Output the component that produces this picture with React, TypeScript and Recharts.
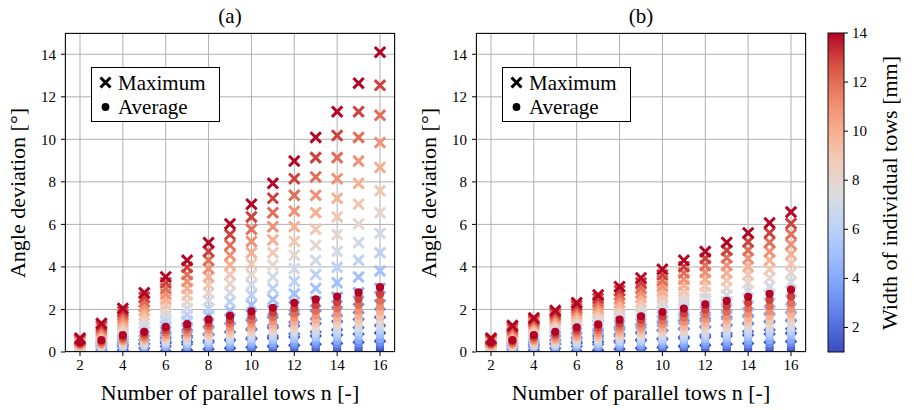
import React from 'react';
import { ScatterChart, Scatter, XAxis, YAxis, CartesianGrid } from 'recharts';

const towCounts = [2, 3, 4, 5, 6, 7, 8, 9, 10, 11, 12, 13, 14, 15, 16];
const widths = [1, 2, 3, 4, 5, 6, 7, 8, 9, 10, 11, 12, 13, 14];
const xTicks = [2, 4, 6, 8, 10, 12, 14, 16];
const yTicks = [0, 2, 4, 6, 8, 10, 12, 14];
const barTicks = [2, 4, 6, 8, 10, 12, 14];

// rows: tow width 1..14 mm, columns: n = 2..16
const maxA = [
  [0.05, 0.09, 0.14, 0.19, 0.23, 0.28, 0.33, 0.37, 0.42, 0.46, 0.51, 0.56, 0.6, 0.65, 0.7],
  [0.09, 0.19, 0.28, 0.37, 0.46, 0.56, 0.65, 0.75, 0.85, 0.95, 1.04, 1.14, 1.24, 1.34, 1.44],
  [0.14, 0.28, 0.42, 0.56, 0.7, 0.85, 1.0, 1.14, 1.29, 1.44, 1.59, 1.75, 1.9, 2.05, 2.21],
  [0.19, 0.37, 0.56, 0.75, 0.95, 1.14, 1.34, 1.54, 1.75, 1.95, 2.15, 2.36, 2.57, 2.78, 2.99],
  [0.23, 0.46, 0.7, 0.95, 1.19, 1.44, 1.7, 1.95, 2.21, 2.47, 2.73, 2.99, 3.26, 3.53, 3.81],
  [0.28, 0.56, 0.85, 1.14, 1.44, 1.75, 2.05, 2.36, 2.68, 2.99, 3.32, 3.64, 3.98, 4.31, 4.67],
  [0.33, 0.65, 1.0, 1.34, 1.7, 2.05, 2.42, 2.78, 3.16, 3.53, 3.92, 4.31, 4.73, 5.14, 5.58],
  [0.37, 0.75, 1.14, 1.54, 1.95, 2.36, 2.78, 3.21, 3.64, 4.09, 4.55, 5.02, 5.52, 6.02, 6.55],
  [0.42, 0.85, 1.29, 1.75, 2.21, 2.68, 3.16, 3.64, 4.14, 4.67, 5.2, 5.77, 6.35, 6.95, 7.58],
  [0.46, 0.95, 1.44, 1.95, 2.47, 2.99, 3.53, 4.09, 4.67, 5.27, 5.89, 6.55, 7.23, 7.93, 8.68],
  [0.51, 1.04, 1.59, 2.15, 2.73, 3.32, 3.92, 4.55, 5.2, 5.89, 6.62, 7.37, 8.15, 8.98, 9.85],
  [0.56, 1.14, 1.75, 2.36, 2.99, 3.64, 4.31, 5.02, 5.77, 6.55, 7.37, 8.23, 9.14, 10.09, 11.13],
  [0.6, 1.24, 1.9, 2.57, 3.26, 3.98, 4.73, 5.52, 6.35, 7.23, 8.15, 9.14, 10.18, 11.3, 12.54],
  [0.65, 1.34, 2.05, 2.78, 3.53, 4.31, 5.14, 6.02, 6.95, 7.93, 8.98, 10.09, 11.3, 12.64, 14.1],
];

const avgA = [
  [0.02, 0.02, 0.03, 0.04, 0.05, 0.06, 0.07, 0.07, 0.08, 0.09, 0.1, 0.11, 0.11, 0.12, 0.13],
  [0.04, 0.05, 0.07, 0.09, 0.11, 0.12, 0.14, 0.15, 0.17, 0.19, 0.21, 0.22, 0.24, 0.25, 0.28],
  [0.06, 0.08, 0.11, 0.14, 0.17, 0.19, 0.22, 0.24, 0.27, 0.3, 0.33, 0.35, 0.37, 0.4, 0.44],
  [0.09, 0.11, 0.16, 0.19, 0.23, 0.26, 0.3, 0.34, 0.38, 0.41, 0.46, 0.49, 0.52, 0.56, 0.61],
  [0.12, 0.15, 0.21, 0.26, 0.32, 0.35, 0.41, 0.46, 0.52, 0.56, 0.62, 0.67, 0.7, 0.76, 0.82],
  [0.15, 0.18, 0.26, 0.31, 0.39, 0.43, 0.5, 0.56, 0.63, 0.69, 0.76, 0.82, 0.86, 0.92, 1.01],
  [0.18, 0.22, 0.31, 0.37, 0.46, 0.52, 0.6, 0.67, 0.75, 0.82, 0.91, 0.97, 1.03, 1.1, 1.2],
  [0.21, 0.26, 0.37, 0.44, 0.55, 0.61, 0.71, 0.79, 0.89, 0.97, 1.08, 1.15, 1.22, 1.31, 1.42],
  [0.24, 0.3, 0.43, 0.51, 0.64, 0.71, 0.83, 0.92, 1.03, 1.13, 1.25, 1.34, 1.41, 1.51, 1.65],
  [0.28, 0.34, 0.49, 0.58, 0.73, 0.81, 0.94, 1.05, 1.17, 1.28, 1.42, 1.52, 1.61, 1.72, 1.88],
  [0.31, 0.39, 0.55, 0.66, 0.82, 0.91, 1.07, 1.18, 1.33, 1.45, 1.61, 1.72, 1.82, 1.95, 2.13],
  [0.36, 0.44, 0.62, 0.75, 0.93, 1.03, 1.21, 1.34, 1.51, 1.64, 1.82, 1.95, 2.06, 2.21, 2.41],
  [0.4, 0.5, 0.7, 0.85, 1.05, 1.17, 1.36, 1.51, 1.7, 1.85, 2.06, 2.2, 2.33, 2.49, 2.72],
  [0.45, 0.56, 0.79, 0.95, 1.18, 1.31, 1.53, 1.7, 1.91, 2.08, 2.31, 2.47, 2.61, 2.8, 3.05],
];

const maxB = [
  [0.05, 0.09, 0.14, 0.19, 0.23, 0.28, 0.33, 0.37, 0.42, 0.46, 0.51, 0.56, 0.6, 0.65, 0.69],
  [0.09, 0.19, 0.28, 0.37, 0.46, 0.56, 0.65, 0.73, 0.82, 0.9, 0.99, 1.07, 1.16, 1.24, 1.29],
  [0.14, 0.28, 0.42, 0.56, 0.69, 0.82, 0.95, 1.07, 1.2, 1.29, 1.37, 1.45, 1.52, 1.6, 1.67],
  [0.19, 0.37, 0.56, 0.73, 0.9, 1.07, 1.24, 1.34, 1.45, 1.55, 1.65, 1.75, 1.85, 1.95, 2.05],
  [0.23, 0.46, 0.69, 0.9, 1.11, 1.29, 1.42, 1.55, 1.67, 1.8, 1.93, 2.05, 2.18, 2.31, 2.44],
  [0.28, 0.56, 0.82, 1.07, 1.29, 1.45, 1.6, 1.75, 1.9, 2.05, 2.21, 2.36, 2.52, 2.68, 2.85],
  [0.33, 0.65, 0.95, 1.24, 1.42, 1.6, 1.78, 1.95, 2.13, 2.31, 2.5, 2.68, 2.88, 3.07, 3.28],
  [0.37, 0.73, 1.07, 1.34, 1.55, 1.75, 1.95, 2.16, 2.36, 2.57, 2.79, 3.01, 3.25, 3.48, 3.71],
  [0.42, 0.82, 1.2, 1.45, 1.67, 1.9, 2.13, 2.36, 2.6, 2.85, 3.1, 3.36, 3.63, 3.89, 4.16],
  [0.46, 0.9, 1.29, 1.55, 1.8, 2.05, 2.31, 2.57, 2.85, 3.13, 3.42, 3.71, 4.01, 4.31, 4.6],
  [0.51, 0.99, 1.37, 1.65, 1.93, 2.21, 2.5, 2.79, 3.1, 3.42, 3.74, 4.07, 4.4, 4.72, 5.06],
  [0.56, 1.07, 1.45, 1.75, 2.05, 2.36, 2.68, 3.01, 3.36, 3.71, 4.07, 4.43, 4.78, 5.15, 5.54],
  [0.6, 1.16, 1.52, 1.85, 2.18, 2.52, 2.88, 3.25, 3.63, 4.01, 4.4, 4.78, 5.18, 5.6, 6.04],
  [0.65, 1.24, 1.6, 1.95, 2.31, 2.68, 3.07, 3.48, 3.89, 4.31, 4.72, 5.15, 5.6, 6.07, 6.58],
];

const avgB = [
  [0.02, 0.02, 0.03, 0.04, 0.05, 0.06, 0.07, 0.07, 0.08, 0.09, 0.1, 0.1, 0.11, 0.12, 0.13],
  [0.04, 0.05, 0.07, 0.09, 0.11, 0.12, 0.14, 0.15, 0.17, 0.19, 0.2, 0.22, 0.24, 0.25, 0.27],
  [0.06, 0.08, 0.11, 0.14, 0.17, 0.19, 0.22, 0.24, 0.27, 0.29, 0.32, 0.34, 0.37, 0.39, 0.42],
  [0.09, 0.11, 0.16, 0.19, 0.23, 0.26, 0.3, 0.33, 0.37, 0.41, 0.45, 0.48, 0.52, 0.55, 0.58],
  [0.12, 0.15, 0.22, 0.26, 0.31, 0.35, 0.41, 0.45, 0.51, 0.55, 0.6, 0.65, 0.7, 0.74, 0.79],
  [0.15, 0.18, 0.26, 0.31, 0.38, 0.43, 0.5, 0.55, 0.62, 0.67, 0.74, 0.79, 0.85, 0.9, 0.97],
  [0.18, 0.22, 0.32, 0.37, 0.46, 0.51, 0.6, 0.66, 0.74, 0.8, 0.88, 0.95, 1.02, 1.08, 1.15],
  [0.21, 0.26, 0.37, 0.44, 0.54, 0.61, 0.71, 0.78, 0.88, 0.95, 1.05, 1.12, 1.21, 1.28, 1.37],
  [0.24, 0.3, 0.43, 0.51, 0.63, 0.7, 0.82, 0.91, 1.02, 1.1, 1.21, 1.3, 1.4, 1.48, 1.59],
  [0.28, 0.34, 0.49, 0.58, 0.71, 0.8, 0.93, 1.03, 1.16, 1.25, 1.38, 1.48, 1.59, 1.69, 1.8],
  [0.31, 0.39, 0.56, 0.66, 0.81, 0.91, 1.06, 1.17, 1.31, 1.42, 1.56, 1.67, 1.81, 1.91, 2.04],
  [0.36, 0.44, 0.63, 0.75, 0.92, 1.03, 1.2, 1.33, 1.48, 1.61, 1.77, 1.89, 2.04, 2.16, 2.31],
  [0.4, 0.5, 0.71, 0.85, 1.03, 1.16, 1.35, 1.5, 1.68, 1.82, 2.0, 2.14, 2.31, 2.44, 2.61],
  [0.45, 0.56, 0.8, 0.95, 1.16, 1.3, 1.52, 1.68, 1.88, 2.04, 2.24, 2.4, 2.59, 2.74, 2.93],
];

// matplotlib coolwarm sampled at 0, 0.1, ... 1
const coolwarm = ['#3b4cc0', '#5977e3', '#7b9ff9', '#9ebeff', '#c0d4f5', '#dddcdc', '#f2cbb7', '#f7ac8e', '#ee8468', '#d65244', '#b40426'];

const FONT = '"Liberation Serif", "DejaVu Serif", serif';
const W_MIN = 1;
const W_MAX = 14;

function hexToRgb(h: string) {
  return [parseInt(h.slice(1, 3), 16), parseInt(h.slice(3, 5), 16), parseInt(h.slice(5, 7), 16)];
}

function widthColor(w: number) {
  const t = ((w - W_MIN) / (W_MAX - W_MIN)) * (coolwarm.length - 1);
  const i = Math.min(Math.floor(t), coolwarm.length - 2);
  const f = t - i;
  const a = hexToRgb(coolwarm[i]);
  const b = hexToRgb(coolwarm[i + 1]);
  const c = a.map((v, k) => Math.round(v + (b[k] - v) * f));
  return `rgb(${c[0]},${c[1]},${c[2]})`;
}

const XMark = (color: string) => (props: any) => {
  const { cx, cy } = props;
  if (cx == null || cy == null) return <g />;
  const r = 5.2;
  return (
    <path
      d={`M${cx - r},${cy - r}L${cx + r},${cy + r}M${cx - r},${cy + r}L${cx + r},${cy - r}`}
      stroke={color}
      strokeWidth={3}
      fill="none"
    />
  );
};

const Dot = (color: string) => (props: any) => {
  const { cx, cy } = props;
  if (cx == null || cy == null) return <g />;
  return <circle cx={cx} cy={cy} r={4.1} fill={color} />;
};

const toPoints = (row: number[]) => towCounts.map((n, i) => ({ n, v: row[i] }));

// plot box inside each panel
const PLOT_LEFT = 65;
const PLOT_TOP = 33;
const PLOT_W = 330;
const PLOT_H = 319;

const Panel: React.FC<{ left: number; title: string; maxRows: number[][]; avgRows: number[][] }> = ({ left, title, maxRows, avgRows }) => {
  const tickStyle = { fill: '#000', fontSize: 15, fontFamily: FONT };
  return (
    <>
      <div style={{ position: 'absolute', left, top: 0 }}>
        <ScatterChart width={457} height={410} margin={{ top: PLOT_TOP, right: 62, bottom: 28, left: 25 }}>
          <CartesianGrid stroke="#b0b0b0" strokeWidth={1} />
          <XAxis
            type="number"
            dataKey="n"
            domain={[1.3, 16.7]}
            ticks={xTicks}
            allowDataOverflow
            height={30}
            axisLine={false}
            tickLine={{ stroke: '#000' }}
            tickSize={4}
            tickMargin={3}
            tick={tickStyle}
          />
          <YAxis
            type="number"
            dataKey="v"
            domain={[0, 15]}
            ticks={yTicks}
            allowDataOverflow
            width={40}
            axisLine={false}
            tickLine={{ stroke: '#000' }}
            tickSize={4}
            tickMargin={5}
            tick={tickStyle}
          />
          {widths.map((w, i) => (
            <Scatter key={'m' + w} data={toPoints(maxRows[i])} shape={XMark(widthColor(w))} isAnimationActive={false} />
          ))}
          {widths.map((w, i) => (
            <Scatter key={'a' + w} data={toPoints(avgRows[i])} shape={Dot(widthColor(w))} isAnimationActive={false} />
          ))}
        </ScatterChart>
      </div>
      {/* frame */}
      <div
        style={{
          position: 'absolute',
          left: left + PLOT_LEFT,
          top: PLOT_TOP,
          width: PLOT_W,
          height: PLOT_H,
          border: '1px solid #111',
          boxSizing: 'border-box',
          pointerEvents: 'none',
        }}
      />
      {/* title */}
      <div
        style={{
          position: 'absolute',
          left: left + PLOT_LEFT + PLOT_W / 2,
          top: 16,
          transform: 'translate(-50%, -50%)',
          fontFamily: FONT,
          fontSize: 21,
        }}
      >
        {title}
      </div>
      {/* axis labels */}
      <div
        style={{
          position: 'absolute',
          left: left + PLOT_LEFT + PLOT_W / 2,
          top: 393,
          transform: 'translate(-50%, -50%)',
          fontFamily: FONT,
          fontSize: 22,
          whiteSpace: 'nowrap',
        }}
      >
        Number of parallel tows n [-]
      </div>
      <div
        style={{
          position: 'absolute',
          left: left + 18,
          top: 193,
          transform: 'translate(-50%, -50%) rotate(-90deg)',
          fontFamily: FONT,
          fontSize: 22,
          whiteSpace: 'nowrap',
        }}
      >
        Angle deviation [°]
      </div>
      {/* legend */}
      <div
        style={{
          position: 'absolute',
          left: left + 91,
          top: 67,
          width: 129,
          height: 55,
          border: '1px solid #000',
          boxSizing: 'border-box',
          background: '#fff',
          fontFamily: FONT,
          fontSize: 21,
        }}
      >
        <svg width={24} height={55} style={{ position: 'absolute', left: 0, top: 0 }}>
          <path d="M8.5,9.5L18.5,19.5M8.5,19.5L18.5,9.5" stroke="#000" strokeWidth={3} />
          <circle cx={13.5} cy={39} r={3.9} fill="#000" />
        </svg>
        <div style={{ position: 'absolute', left: 26, top: 15, transform: 'translateY(-50%)', lineHeight: 1 }}>Maximum</div>
        <div style={{ position: 'absolute', left: 26, top: 39, transform: 'translateY(-50%)', lineHeight: 1 }}>Average</div>
      </div>
    </>
  );
};

const Colorbar: React.FC = () => {
  const x = 828;
  const w = 16;
  const top = 33;
  const bottom = 352;
  const y = (v: number) => bottom - ((v - W_MIN) / (W_MAX - W_MIN)) * (bottom - top);
  return (
    <>
      <svg width={914} height={410} style={{ position: 'absolute', left: 0, top: 0, pointerEvents: 'none' }}>
        <defs>
          <linearGradient id="cw" x1="0" y1="1" x2="0" y2="0">
            {coolwarm.map((c, i) => (
              <stop key={i} offset={`${(i / (coolwarm.length - 1)) * 100}%`} stopColor={c} />
            ))}
          </linearGradient>
        </defs>
        <rect x={x} y={top} width={w} height={bottom - top} fill="url(#cw)" stroke="#111" strokeWidth={1} />
        {barTicks.map((t) => (
          <g key={t}>
            <line x1={x + w} x2={x + w + 4} y1={y(t)} y2={y(t)} stroke="#000" />
            <text x={x + w + 8} y={y(t)} dominantBaseline="central" fontSize={15} fontFamily={FONT}>
              {t}
            </text>
          </g>
        ))}
      </svg>
      <div
        style={{
          position: 'absolute',
          left: 890,
          top: 193,
          transform: 'translate(-50%, -50%) rotate(-90deg)',
          fontFamily: FONT,
          fontSize: 22,
          whiteSpace: 'nowrap',
        }}
      >
        Width of individual tows [mm]
      </div>
    </>
  );
};

export default function App() {
  return (
    <div style={{ position: 'absolute', left: 0, top: 0, width: 914, height: 410, background: '#fff', overflow: 'hidden' }}>
      <Panel left={0} title="(a)" maxRows={maxA} avgRows={avgA} />
      <Panel left={411} title="(b)" maxRows={maxB} avgRows={avgB} />
      <Colorbar />
    </div>
  );
}
